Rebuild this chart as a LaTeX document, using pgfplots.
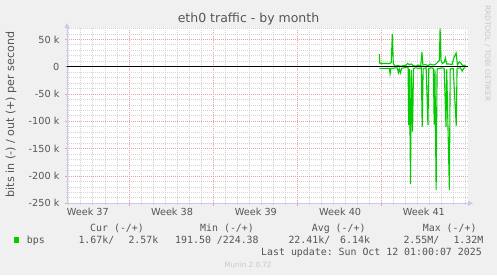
\documentclass[border=0pt]{standalone}
\usepackage{fontspec}
\setmainfont{DejaVu Sans}
\setmonofont{DejaVu Sans Mono}
\usepackage{pgfplots}
\pgfplotsset{compat=1.18}
\usetikzlibrary{arrows.meta}
\definecolor{bg}{HTML}{F0F0F0}
\definecolor{txt}{HTML}{555555}
\definecolor{grn}{HTML}{00CC00}
\definecolor{mgrid}{HTML}{E8A0A0}
\definecolor{ngrid}{HTML}{D4D4D4}
\definecolor{axc}{HTML}{C8C8F0}
\definecolor{wm}{HTML}{C8C8C8}

\pgfplotstableread{
x y
25.96 23
26.00 6
26.50 6
26.85 6
26.95 8
27.04 60
27.12 6
27.25 1
27.50 2
27.75 1
28.00 2
28.20 3
28.30 6
28.45 4
28.60 5
28.80 2
29.00 1
29.20 3
29.40 2
29.50 27
29.58 3
29.80 4
30.00 2
30.20 5
30.40 3
30.60 4
30.80 8
30.95 12
31.01 70
31.08 12
31.20 6
31.35 8
31.45 16
31.55 5
31.75 5
32.00 4
32.15 16
32.34 25
32.45 3
32.60 9
32.75 6
32.90 2
33.12 3
}\outdata

\pgfplotstableread{
x y
25.96 -3
26.50 -3
26.80 -3
26.85 -13
26.92 -3
27.05 -3
27.30 -2
27.45 -2
27.55 -11
27.62 -4
27.72 -11
27.80 -3
28.00 -2
28.20 -1
28.35 -2
28.40 -107
28.46 -4
28.55 -215
28.62 -6
28.72 -119
28.80 -3
29.00 -2
29.20 -3
29.45 -2
29.52 -110
29.60 -3
29.85 -2
30.00 -107
30.07 -3
30.30 -2
30.45 -3
30.52 -106
30.58 -5
30.68 -226
30.76 -4
31.00 -3
31.20 -2
31.35 -3
31.50 -110
31.56 -5
31.78 -226
31.85 -4
32.10 -3
32.35 -108
32.42 -3
32.70 -2
32.85 -8
33.00 -2
33.12 -2
}\indata

\begin{document}
\begin{tikzpicture}[x=1bp,y=1bp]
\fill[bg] (0,0) rectangle (497,275);
\begin{axis}[
  at={(67bp,71.7bp)}, anchor=south west,
  scale only axis, width=401bp, height=175.3bp,
  xmin=0, xmax=33.33, ymin=-250, ymax=70.9,
  axis background/.style={fill=white},
  axis lines=left,
  axis line style={axc, line width=0.8bp, -{Triangle[length=5bp,width=5bp]}, shorten >=-5bp},
  grid=both,
  major grid style={mgrid, line width=0.8bp, dash pattern=on 1bp off 1bp},
  minor grid style={ngrid, line width=0.8bp, dash pattern=on 1bp off 1bp},
  ytick={-250,-200,-150,-100,-50,0,50},
  yticklabels={-250 k,-200 k,-150 k,-100 k,-50 k,0,50 k},
  minor ytick={-240,-230,...,70},
  xtick={5.15,12.15,19.16,26.16},
  xticklabels={},
  minor xtick={0.15,1.15,...,33.15},
  extra x ticks={1.73,8.73,15.7,22.7,29.66},
  extra x tick labels={Week 37,Week 38,Week 39,Week 40,Week 41},
  extra x tick style={grid=none, major tick length=0pt,
    xticklabel style={anchor=base, yshift=-12.4bp}},
  tick align=outside,
  major tick length=2.4bp, minor tick length=1.5bp,
  major tick style={mgrid, line width=0.8bp},
  minor tick style={ngrid, line width=0.8bp},
  tick label style={font=\fontsize{9.7bp}{11bp}\selectfont, text=txt, inner sep=0pt},
  yticklabel style={anchor=east, xshift=-5bp},
]
\addplot[grn, line width=1.1bp] table[x=x,y=y] {\outdata};
\addplot[grn, line width=1.1bp] table[x=x,y=y] {\indata};
\addplot[black, line width=1bp] coordinates {(0,0) (33.33,0)};
\end{axis}
\node[font=\fontsize{12.5bp}{14bp}\selectfont, text=txt] at (248.5,255.7) {eth0 traffic - by month};
\node[rotate=90, font=\fontsize{11.1bp}{13bp}\selectfont, text=txt] at (11,160.5) {bits in (-) / out (+) per second};
\node[rotate=-90, font=\fontsize{7.5bp}{8bp}\selectfont, text=wm] at (487.5,221.5) {RRDTOOL / TOBI OETIKER};
\fill[grn] (14,32.3) rectangle (19.3,37.7);
\begin{scope}[every node/.style={anchor=base west, inner sep=0pt, text=txt, font=\ttfamily\fontsize{9.9bp}{11bp}\selectfont}]
\node at (90,43.1) {Cur (-/+)};
\node at (200,43.1) {Min (-/+)};
\node at (311.7,43.1) {Avg (-/+)};
\node at (422.7,43.1) {Max (-/+)};
\node at (26.7,31.4) {bps};
\node at (78.3,31.4) {1.67k/};
\node at (128.3,31.4) {2.57k};
\node at (175,31.4) {191.50 /224.38};
\node at (288.3,31.4) {22.41k/};
\node at (340,31.4) {6.14k};
\node at (403.3,31.4) {2.55M/};
\node at (453.3,31.4) {1.32M};
\node at (261,19.7) {Last update: Sun Oct 12 01:00:07 2025};
\end{scope}
\node[anchor=base, inner sep=0pt, text=wm, font=\fontsize{7.2bp}{8bp}\selectfont] at (248,8) {Munin 2.0.72};
\pgfresetboundingbox
\path (0,0) rectangle (497,275);
\end{tikzpicture}
\end{document}
